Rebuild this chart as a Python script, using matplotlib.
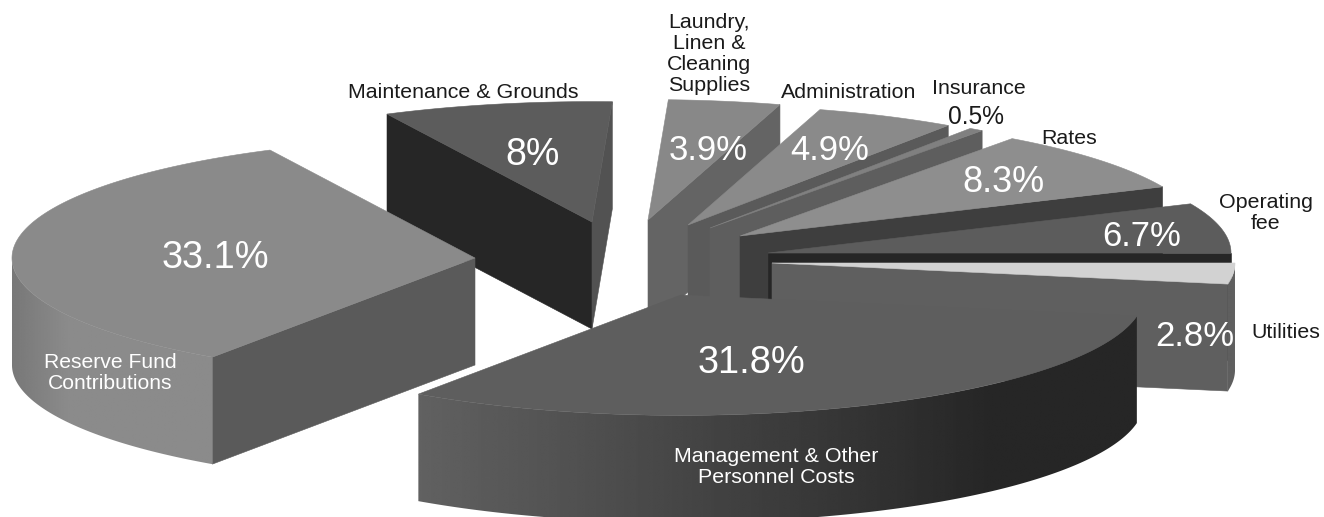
import numpy as np
import matplotlib
matplotlib.use("Agg")
import matplotlib.pyplot as plt
from matplotlib.patches import Polygon

plt.rcParams['font.family'] = ['Liberation Sans', 'DejaVu Sans']

# Slices listed clockwise, starting at the 3 o'clock direction
categories = ["Utilities", "Management & Other\nPersonnel Costs", "Reserve Fund\nContributions",
              "Maintenance & Grounds", "Laundry,\nLinen &\nCleaning\nSupplies", "Administration",
              "Insurance", "Rates", "Operating\nfee"]
shares = [2.8, 31.8, 33.1, 8, 3.9, 4.9, 0.5, 8.3, 6.7]

# Pie geometry in pixels: radius, tilt ratio, extrusion
RADIUS, TILT, DEPTH = 463, 0.26, 107
CENTER = (700, 250)
# Explosion of each slice away from the common centre
explode_x = [72, -19, -225, -108, -52, -12, 10, 40, 68]
explode_y = [13, 45, 8, -28, -30, -25, -22, -14, 3]

top_grey = [0xd2, 0x5e, 0x8a, 0x5c, 0x88, 0x8a, 0x80, 0x8e, 0x5c]
cw_wall_grey = [0x5f, 0x5e, 0x5a, 0x52, 0x64, 0x5a, 0x5e, 0x3e, 0x26]  # wall on the clockwise edge
ccw_wall_grey = [0x5f, 0x5e, 0x5a, 0x26, 0x64, 0x5a, 0x5e, 0x3e, 0x26]  # wall on the counter-clockwise edge
# Side band shade at its left end and right end, and where across the band the right shade is reached
rim_left_grey = [0x5f, 0x61, 0x78, 0x5c, 0x64, 0x5a, 0x5e, 0x3e, 0x26]
rim_right_grey = [0x60, 0x26, 0x8b, 0x5c, 0x64, 0x5a, 0x5e, 0x3e, 0x26]
rim_knee = [1.0, 0.8, 0.28, 1.0, 1.0, 1.0, 1.0, 1.0, 1.0]

draw_order = [3, 2, 4, 5, 6, 7, 8, 0, 1]

# Name labels, same order as the categories
name_x = [1286, 776, 110, 463, 709, 849, 979, 1069, 1266]
name_y = [333, 467, 373, 92, 54, 93, 89, 139, 213]
name_colour = ["#1a1a1a", "white", "white", "#1a1a1a", "#1a1a1a", "#1a1a1a", "#1a1a1a", "#1a1a1a", "#1a1a1a"]
name_size = [15.4, 15.4, 15.2, 15.4, 15.4, 15.4, 15.4, 15.4, 15.4]
# Percentage labels
pct_x = [1195, 751, 215, 533, 708, 830, 976, 1003, 1142]
pct_y = [336, 363, 258, 155, 150, 150, 117, 182, 236]
pct_colour = ["white", "white", "white", "white", "white", "white", "#1a1a1a", "white", "white"]
pct_size = [25, 27.4, 27.4, 27, 25, 25, 17.7, 26, 25]


def grey(level):
    return "#%02x%02x%02x" % (int(level), int(level), int(level))


fig = plt.figure(figsize=(13.24, 5.17), dpi=100)
ax = fig.add_axes([0, 0, 1, 1])

edges = 360 * np.cumsum([0] + shares) / sum(shares)
starts = -edges[:-1]          # counter-clockwise end of the slice is at -edges[i]
ends = -edges[1:]


def rim_point(cx, cy, deg):
    a = np.radians(deg)
    return cx + RADIUS * np.cos(a), cy - RADIUS * TILT * np.sin(a)


def fill(points, level, z):
    ax.add_patch(Polygon(points, closed=True, facecolor=grey(level), edgecolor=grey(level),
                         linewidth=0.4, zorder=z))


for z, i in enumerate(draw_order):
    cx = CENTER[0] + explode_x[i]
    cy = CENTER[1] + explode_y[i]
    hi, lo = starts[i], ends[i]   # slice spans lo..hi in degrees
    base = z * 10 + 1

    # Straight walls, shown only when they face the viewer
    if np.cos(np.radians(hi)) < 0:
        p = rim_point(cx, cy, hi)
        fill([(cx, cy), p, (p[0], p[1] + DEPTH), (cx, cy + DEPTH)], ccw_wall_grey[i], base)
    if np.cos(np.radians(lo)) > 0:
        p = rim_point(cx, cy, lo)
        fill([(cx, cy), p, (p[0], p[1] + DEPTH), (cx, cy + DEPTH)], cw_wall_grey[i], base)

    # Curved side band on the near half of the disc, with a left-to-right shade
    arc = np.linspace(lo, hi, 300)
    arc = arc[np.sin(np.radians(arc)) <= 0.001]
    if len(arc) > 1:
        upper = [rim_point(cx, cy, d) for d in arc]
        lower = [(x, y + DEPTH) for x, y in upper[::-1]]
        band = Polygon(upper + lower, closed=True, facecolor="none", edgecolor="none",
                       transform=ax.transData)
        ax.add_patch(band)
        x0 = min(p[0] for p in upper)
        x1 = max(p[0] for p in upper)
        t = np.clip(np.linspace(0, 1, 256) / rim_knee[i], 0, 1)
        ramp = rim_left_grey[i] + (rim_right_grey[i] - rim_left_grey[i]) * t
        y0 = min(p[1] for p in upper) - 2
        y1 = max(p[1] for p in lower) + 2
        im = ax.imshow(ramp[np.newaxis, :], cmap="gray", vmin=0, vmax=255, aspect="auto",
                       extent=(x0, x1, y1, y0), interpolation="bilinear", zorder=base + 1)
        im.set_clip_path(band)

    # Top face
    arc_top = np.linspace(lo, hi, 200)
    outline = [(cx, cy)] + [rim_point(cx, cy, d) for d in arc_top]
    fill(outline, top_grey[i], base + 2)

for i, name in enumerate(categories):
    ax.text(name_x[i], name_y[i], name, color=name_colour[i], fontsize=name_size[i],
            ha="center", va="center", linespacing=1.13, zorder=200)
    ax.text(pct_x[i], pct_y[i], f"{shares[i]}%", color=pct_colour[i], fontsize=pct_size[i],
            ha="center", va="center", zorder=200)

ax.set_xlim(0, 1324)
ax.set_ylim(517, 0)
ax.axis("off")

fig.savefig("out.png", dpi=100, facecolor="white")
